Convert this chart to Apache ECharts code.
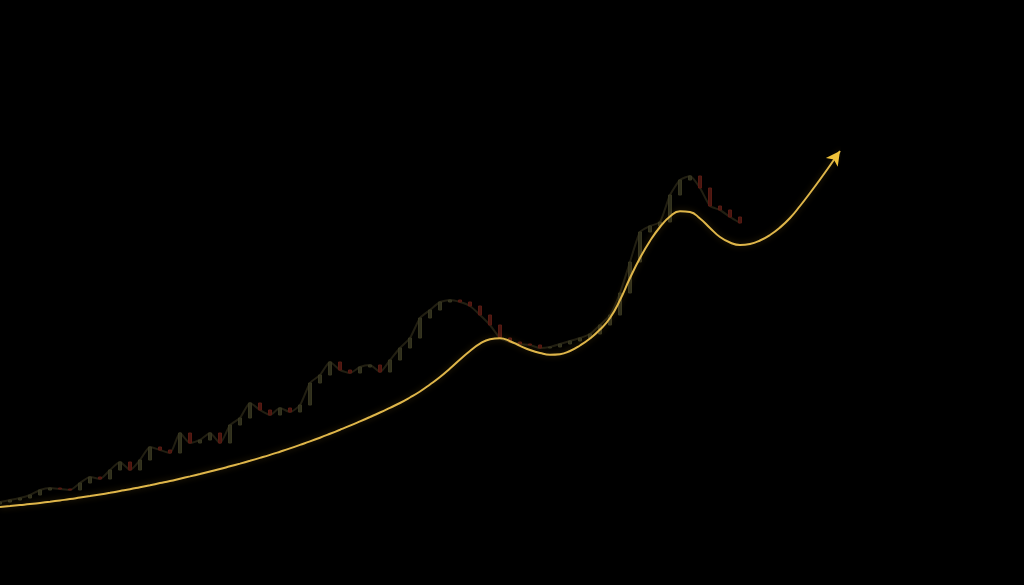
<!DOCTYPE html>
<html><head><meta charset="utf-8">
<script src="https://cdn.jsdelivr.net/npm/echarts@6/dist/echarts.min.js"></script>
<style>html,body{margin:0;padding:0;background:#000;}#c{width:1024px;height:585px;}</style>
</head><body><div id="c"></div>
<script>
// time steps (arbitrary units, no axis labels shown)
const steps = Array.from({length: 85}, (_, i) => String(i));
// smoothed trend line (gold)
const trend = [78,78.9,79.9,80.9,82.1,83.3,84.6,85.9,87.4,88.9,90.5,92.2,94.0,95.8,97.8,99.8,101.9,104.0,106.3,108.6,111.0,113.5,116.0,118.7,121.4,124.2,127.1,130.1,133.3,136.6,140.1,143.6,147.3,151.2,155.2,159.3,163.6,168.0,172.5,177.2,182.0,187.5,193.5,200.5,208,216.5,225.5,234,241.3,245.8,246.8,243.8,239.2,235,232,230.3,230.8,234,239.5,246.5,255.5,267,285,307,327,344,358,368.5,373.8,373,366.5,357,348,342.5,340,341,344.5,350,357.5,367,379,392,405.5,419.5,434];
// price closes (faint candles)
const closes = [83,85,87,90,95,97,96,95,102,108,106,115,123,115,125,138,135,132,152,142,145,152,142,160,167,182,175,170,177,173,180,202,210,223,215,212,218,220,213,225,237,247,267,275,283,285,283,279,270,260,247,243,241,240,237,238,241,244,247,251,260,270,292,323,353,359,363,390,405,409,397,379,375,368,362];

const candles = steps.map((s, i) => {
  if (i >= closes.length) return '-';
  const c = closes[i];
  const o = i === 0 ? 81 : closes[i - 1];
  return [o, c, Math.min(o, c), Math.max(o, c)];
});
const trendData = trend.map((v, i) => i === trend.length - 1
  ? {value: v, symbol: 'arrow', symbolSize: [11, 14], symbolRotate: -36, itemStyle: {color: '#f0c23a'}}
  : v);

const chart = echarts.init(document.getElementById('c'));
chart.setOption({
  backgroundColor: '#000',
  animation: false,
  grid: {left: 0, right: 184, top: 0, bottom: 0},
  xAxis: {type: 'category', data: steps, boundaryGap: false, show: false},
  yAxis: {type: 'value', min: 0, max: 585, show: false},
  series: [
    {
      type: 'line',
      data: closes,
      smooth: 0.2,
      symbol: 'none',
      lineStyle: {color: '#221f12', width: 2},
      z: 1
    },
    {
      type: 'candlestick',
      data: candles,
      barWidth: 3,
      itemStyle: {color: '#2f2e1c', color0: '#4a1610', borderColor: '#36351f', borderColor0: '#571a12', borderWidth: 1},
      z: 2
    },
    {
      type: 'line',
      data: trendData,
      smooth: 0.5,
      showSymbol: true,
      symbol: 'none',
      lineStyle: {color: '#dfb64a', width: 2, shadowColor: 'rgba(200,150,40,0.3)', shadowBlur: 6},
      z: 5
    }
  ]
});
</script></body></html>
